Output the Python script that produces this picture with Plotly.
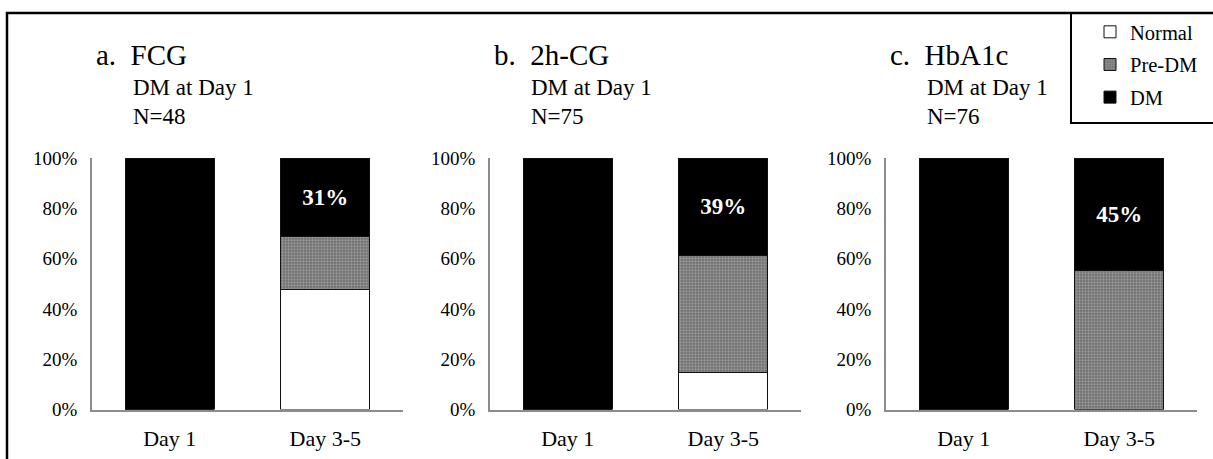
import plotly.graph_objects as go

W, H = 1213, 459

categories = ["Day 1", "Day 3-5"]
panel_letters = ["a.", "b.", "c."]
panel_names = ["FCG", "2h-CG", "HbA1c"]
panel_sub = ["DM at Day 1", "DM at Day 1", "DM at Day 1"]
panel_n = ["N=48", "N=75", "N=76"]

normal_fcg = [0.0, 0.479]
predm_fcg = [0.0, 0.208]
dm_fcg = [1.0, 0.313]

normal_2hcg = [0.0, 0.147]
predm_2hcg = [0.0, 0.466]
dm_2hcg = [1.0, 0.387]

normal_hba1c = [0.0, 0.0]
predm_hba1c = [0.0, 0.553]
dm_hba1c = [1.0, 0.447]

panels_data = [
    (normal_fcg, predm_fcg, dm_fcg),
    (normal_2hcg, predm_2hcg, dm_2hcg),
    (normal_hba1c, predm_hba1c, dm_hba1c),
]

FONT = "Liberation Serif, Times New Roman, serif"

# pixel layout
x_left_px = [92, 490, 886]
panel_w_px = 311
y_bottom_px = 409.5
y_top_px = 158


def px_x(p):
    return p / W


def px_y(p):
    return 1 - p / H


fig = go.Figure()

for i, (nrm, pre, dm) in enumerate(panels_data):
    ax = "" if i == 0 else str(i + 1)
    xa, ya = "x" + ax, "y" + ax
    show = i == 0
    fig.add_trace(go.Bar(
        x=categories, y=nrm, name="Normal", xaxis=xa, yaxis=ya,
        marker=dict(color="white", line=dict(color="#111", width=1)),
        width=0.57, showlegend=show, legendgroup="n",
    ))
    fig.add_trace(go.Bar(
        x=categories, y=pre, name="Pre-DM", xaxis=xa, yaxis=ya,
        marker=dict(color="#6e6e6e", line=dict(color="#111", width=1),
                    pattern=dict(shape=".", fgcolor="#c4c4c4", size=3, solidity=0.45)),
        width=0.57, showlegend=show, legendgroup="p",
    ))
    labels = ["" if k == 0 else f"{round(v * 100)}%" for k, v in enumerate(dm)]
    fig.add_trace(go.Bar(
        x=categories, y=dm, name="DM", xaxis=xa, yaxis=ya,
        marker=dict(color="black", line=dict(color="#111", width=1)),
        width=0.57, showlegend=show, legendgroup="d",
        text=labels, textposition="inside", insidetextanchor="middle",
        textangle=0, textfont=dict(family=FONT, size=23, color="white", weight="bold"),
        cliponaxis=False,
    ))

    x0 = px_x(x_left_px[i])
    x1 = px_x(x_left_px[i] + panel_w_px)
    fig.layout["xaxis" + ax] = dict(
        domain=[x0, x1], anchor=ya, type="category", range=[-0.5, 1.5],
        showline=True, linecolor="#8c8c8c", linewidth=1.5, showgrid=False,
        ticks="", tickfont=dict(family=FONT, size=22, color="black"),
        ticklabelstandoff=8, fixedrange=True, automargin=False,
    )
    fig.layout["yaxis" + ax] = dict(
        domain=[px_y(y_bottom_px), px_y(y_top_px)], anchor=xa, range=[0, 1],
        tickformat=".0%", dtick=0.2, showline=True, linecolor="#8c8c8c",
        linewidth=1.5, showgrid=False, zeroline=False, ticks="",
        tickfont=dict(family=FONT, size=19, color="black"),
        ticklabelstandoff=9, fixedrange=True, automargin=False,
    )

    # panel titles
    fig.add_annotation(
        text=panel_letters[i] + "\u00a0\u00a0" + panel_names[i],
        xref="paper", yref="paper", x=px_x(x_left_px[i] + 2), y=px_y(55),
        xanchor="left", yanchor="middle", showarrow=False,
        font=dict(family=FONT, size=29, color="black"),
    )
    fig.add_annotation(
        text=panel_sub[i], xref="paper", yref="paper",
        x=px_x(x_left_px[i] + 39), y=px_y(87), xanchor="left", yanchor="middle",
        showarrow=False, font=dict(family=FONT, size=23, color="black"),
    )
    fig.add_annotation(
        text=panel_n[i], xref="paper", yref="paper",
        x=px_x(x_left_px[i] + 39), y=px_y(116), xanchor="left", yanchor="middle",
        showarrow=False, font=dict(family=FONT, size=23, color="black"),
    )

# outer frame (left and top edges visible)
fig.add_shape(type="rect", xref="paper", yref="paper",
              x0=px_x(7), x1=1.02, y0=-0.05, y1=px_y(13),
              line=dict(color="black", width=2.5), layer="above")
# legend box
fig.add_shape(type="rect", xref="paper", yref="paper",
              x0=px_x(1071), x1=1.02, y0=px_y(123), y1=px_y(13),
              line=dict(color="black", width=2), layer="above")

fig.update_layout(
    width=W, height=H, margin=dict(l=0, r=0, t=0, b=0, autoexpand=False),
    paper_bgcolor="white", plot_bgcolor="white",
    barmode="stack", bargap=0.43,
    showlegend=True,
    legend=dict(
        x=px_x(1090), y=px_y(12), xanchor="left", yanchor="top",
        traceorder="grouped", tracegroupgap=3,
        font=dict(family=FONT, size=20.5, color="black"),
        bgcolor="rgba(0,0,0,0)", borderwidth=0,
    ),
)

fig.write_html("out.html")
